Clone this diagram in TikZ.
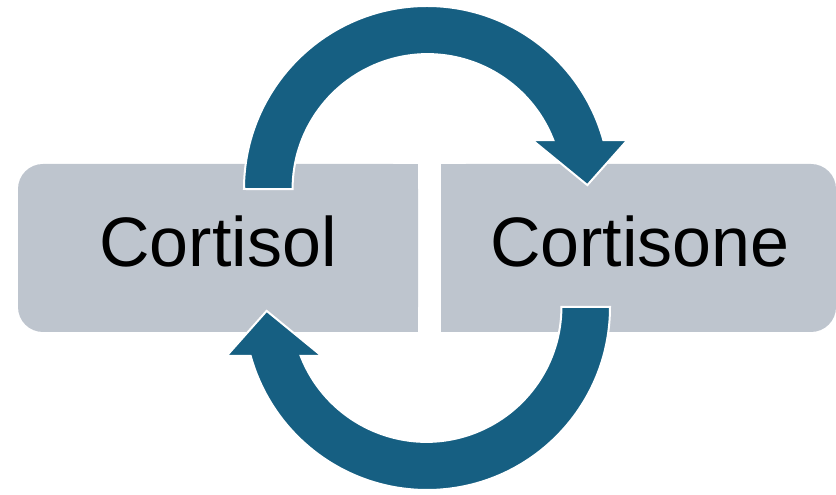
\documentclass[tikz,border=0pt]{standalone}
\usepackage{fontspec}
\setmainfont{Liberation Sans}
\usetikzlibrary{calc}
\definecolor{boxgray}{RGB}{190,197,206}
\definecolor{loopblue}{RGB}{22,95,130}
\def\halfloop{\fill[loopblue, draw=white, line width=2pt] (427,306) ++(180:183) arc[start angle=180, end angle=15.5, radius=183] -- ++(24,0) -- ++(-40,-45) -- ++(-55,45) -- ++(21,0) arc[start angle=21.3, end angle=180, radius=135] -- cycle;}

\begin{document}
\begin{tikzpicture}[x=1pt, y=1pt,
		boxtext/.style={anchor=base, inner sep=0pt, font=\fontsize{70}{84}\selectfont}]
		%%%%% START %%%%%
		\useasboundingbox (0,0) rectangle (836,495);
		
		% left box, rounded on the left
		\fill[boxgray, rounded corners=25] (18,163) rectangle (418,331);
		\fill[boxgray] (300,163) rectangle (418,331);
		
		% right box, rounded on the right
		\fill[boxgray, rounded corners=25] (441,163) rectangle (836,331);
		\fill[boxgray] (441,163) rectangle (560,331);
		
		\node[boxtext] (cortisol) at (218,228) {Cortisol};
		\node[boxtext] (cortisone) at (640,228) {Cortisone};
		
		% upper arrow
		\halfloop
		
		% lower arrow
		\begin{scope}[rotate around={180:(427,247)}]
			\halfloop
		\end{scope}
		%%%%% END %%%%%
	\end{tikzpicture}
\end{document}
